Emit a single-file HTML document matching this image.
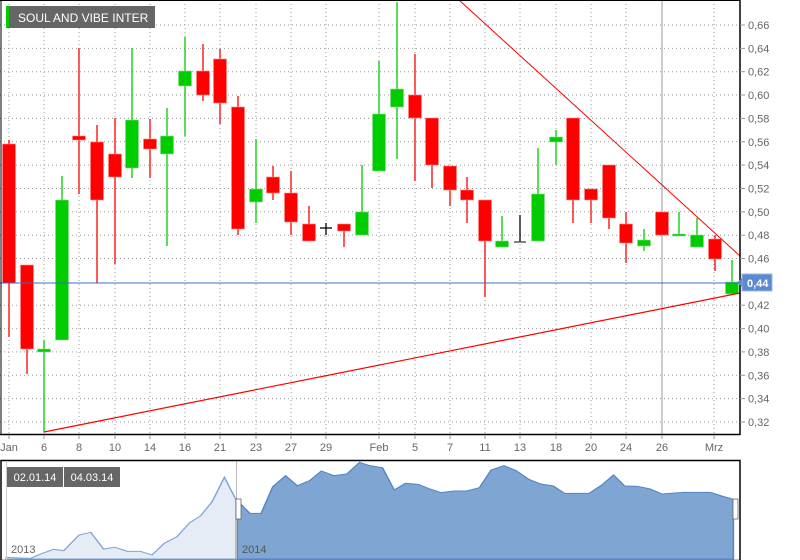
<!DOCTYPE html>
<html><head><meta charset="utf-8"><style>
html,body{margin:0;padding:0;background:#fff;}
svg{display:block;font-family:"Liberation Sans",sans-serif;}
</style></head><body>
<svg width="800" height="560" viewBox="0 0 800 560" xmlns="http://www.w3.org/2000/svg">
<rect width="800" height="560" fill="#fff"/>
<!-- horizontal grid -->
<g stroke="#999" stroke-dasharray="1,3" stroke-width="1">
<line x1="0" x2="740" y1="25" y2="25"/><line x1="0" x2="740" y1="48.4" y2="48.4"/><line x1="0" x2="740" y1="71.7" y2="71.7"/><line x1="0" x2="740" y1="95" y2="95"/><line x1="0" x2="740" y1="118.4" y2="118.4"/><line x1="0" x2="740" y1="141.8" y2="141.8"/><line x1="0" x2="740" y1="165.1" y2="165.1"/><line x1="0" x2="740" y1="188.5" y2="188.5"/><line x1="0" x2="740" y1="211.8" y2="211.8"/><line x1="0" x2="740" y1="235.2" y2="235.2"/><line x1="0" x2="740" y1="258.5" y2="258.5"/><line x1="0" x2="740" y1="305.2" y2="305.2"/><line x1="0" x2="740" y1="328.6" y2="328.6"/><line x1="0" x2="740" y1="351.9" y2="351.9"/><line x1="0" x2="740" y1="375.3" y2="375.3"/><line x1="0" x2="740" y1="398.6" y2="398.6"/><line x1="0" x2="740" y1="422" y2="422"/>
</g>
<!-- vertical grid -->
<g stroke="#999" stroke-dasharray="1,3">
<line x1="9" x2="9" y1="0" y2="434"/><line x1="44" x2="44" y1="0" y2="434"/><line x1="79" x2="79" y1="0" y2="434"/><line x1="115" x2="115" y1="0" y2="434"/><line x1="150" x2="150" y1="0" y2="434"/><line x1="185" x2="185" y1="0" y2="434"/><line x1="220" x2="220" y1="0" y2="434"/><line x1="256" x2="256" y1="0" y2="434"/><line x1="291" x2="291" y1="0" y2="434"/><line x1="326" x2="326" y1="0" y2="434"/><line x1="379" x2="379" y1="0" y2="434"/><line x1="415" x2="415" y1="0" y2="434"/><line x1="450" x2="450" y1="0" y2="434"/><line x1="485" x2="485" y1="0" y2="434"/><line x1="520" x2="520" y1="0" y2="434"/><line x1="556" x2="556" y1="0" y2="434"/><line x1="591" x2="591" y1="0" y2="434"/><line x1="626" x2="626" y1="0" y2="434"/><line x1="714" x2="714" y1="0" y2="434"/>
</g>
<line x1="662" x2="662" y1="0" y2="434" stroke="#999" stroke-width="1"/>
<!-- candles -->
<g stroke-width="1.3">
<!-- wicks -->
<g stroke="#f00">
<line x1="9" x2="9" y1="140" y2="337"/><line x1="27" x2="27" y1="265" y2="374"/><line x1="79" x2="79" y1="48" y2="194"/><line x1="97" x2="97" y1="125" y2="283"/><line x1="115" x2="115" y1="118" y2="264"/><line x1="150" x2="150" y1="119" y2="178"/><line x1="203" x2="203" y1="44" y2="101"/><line x1="220" x2="220" y1="49" y2="124"/><line x1="238" x2="238" y1="96" y2="235"/><line x1="273" x2="273" y1="166" y2="200"/><line x1="291" x2="291" y1="171" y2="235"/><line x1="309" x2="309" y1="206" y2="241"/><line x1="344" x2="344" y1="224" y2="247"/>
<line x1="415" x2="415" y1="54" y2="181"/><line x1="432" x2="432" y1="118" y2="188"/><line x1="450" x2="450" y1="166" y2="206"/><line x1="467" x2="467" y1="177" y2="223"/><line x1="485" x2="485" y1="200" y2="297"/><line x1="573" x2="573" y1="118" y2="223"/><line x1="591" x2="591" y1="189" y2="223"/><line x1="609" x2="609" y1="165" y2="229"/><line x1="626" x2="626" y1="212" y2="263"/><line x1="715" x2="715" y1="235" y2="271"/>
</g>
<g stroke="#0c0">
<line x1="44" x2="44" y1="340" y2="432"/><line x1="62" x2="62" y1="176" y2="340"/><line x1="132" x2="132" y1="48" y2="178"/><line x1="167" x2="167" y1="108" y2="246"/><line x1="185" x2="185" y1="37" y2="136"/><line x1="256" x2="256" y1="139" y2="223"/><line x1="362" x2="362" y1="165" y2="235"/>
<line x1="379" x2="379" y1="61" y2="171"/><line x1="397" x2="397" y1="2" y2="159"/><line x1="502" x2="502" y1="216" y2="247"/><line x1="538" x2="538" y1="148" y2="241"/><line x1="556" x2="556" y1="130" y2="165"/><line x1="644" x2="644" y1="229" y2="251"/><line x1="679" x2="679" y1="212" y2="236"/><line x1="697" x2="697" y1="218" y2="247"/><line x1="732" x2="732" y1="260" y2="294"/>
</g>
<g stroke="#000">
<line x1="326" x2="326" y1="223" y2="235"/><line x1="320" x2="332" y1="228" y2="228"/>
<line x1="520" x2="520" y1="215" y2="242"/><line x1="514" x2="526" y1="242" y2="242" stroke="#444"/>
</g>
</g>
<g fill="#f00" stroke="#f88" stroke-width="0.6">
<rect x="2.5" y="144" width="13" height="139"/><rect x="20.5" y="265" width="13" height="84"/><rect x="72.5" y="136" width="13" height="4"/><rect x="90.5" y="142" width="13" height="58"/><rect x="108.5" y="154" width="13" height="23"/><rect x="143.5" y="139" width="13" height="10"/><rect x="196.5" y="71" width="13" height="24"/><rect x="213.5" y="59" width="13" height="44"/><rect x="231.5" y="107" width="13" height="122"/><rect x="266.5" y="177" width="13" height="16"/><rect x="284.5" y="193" width="13" height="29"/><rect x="302.5" y="224" width="13" height="17"/><rect x="337.5" y="224" width="13" height="7"/>
<rect x="408.5" y="95" width="13" height="23"/><rect x="425.5" y="118" width="13" height="47"/><rect x="443.5" y="166" width="13" height="24"/><rect x="460.5" y="190" width="13" height="10"/><rect x="478.5" y="200" width="13" height="41"/><rect x="566.5" y="118" width="13" height="82"/><rect x="584.5" y="189" width="13" height="11"/><rect x="602.5" y="165" width="13" height="53"/><rect x="619.5" y="224" width="13" height="19"/><rect x="655.5" y="212" width="13" height="23"/><rect x="708.5" y="239" width="13" height="20"/>
</g>
<g fill="#0c0" stroke="#8d8" stroke-width="0.6">
<rect x="37.5" y="349" width="13" height="3"/><rect x="55.5" y="200" width="13" height="140"/><rect x="125.5" y="120" width="13" height="48"/><rect x="160.5" y="136" width="13" height="18"/><rect x="178.5" y="71" width="13" height="15"/><rect x="249.5" y="189" width="13" height="13"/><rect x="355.5" y="212" width="13" height="23"/>
<rect x="372.5" y="114" width="13" height="57"/><rect x="390.5" y="89" width="13" height="18"/><rect x="495.5" y="241" width="13" height="6"/><rect x="531.5" y="194" width="13" height="47"/><rect x="549.5" y="137" width="13" height="5"/><rect x="637.5" y="240" width="13" height="6"/><rect x="672.5" y="234" width="13" height="2"/><rect x="690.5" y="235" width="13" height="12"/><rect x="725.5" y="282" width="13" height="12"/>
</g>
<!-- lines -->
<line x1="0" x2="740" y1="283" y2="283" stroke="#3a6fc0" stroke-width="1"/>
<line x1="459" y1="0" x2="740" y2="256" stroke="#f00" stroke-width="1"/>
<line x1="44" y1="432" x2="740" y2="293" stroke="#f00" stroke-width="1.2"/>
<!-- axes -->
<line x1="740" x2="740" y1="0" y2="435" stroke="#000" stroke-width="1.5"/>
<line x1="0" x2="740" y1="434.5" y2="434.5" stroke="#000" stroke-width="1.5"/>
<line x1="1" x2="1" y1="0" y2="435" stroke="#000" stroke-width="1"/>
<line x1="0" x2="740" y1="0.5" y2="0.5" stroke="#000" stroke-width="1"/>
<g stroke="#999"><line x1="740" x2="745" y1="25" y2="25"/><line x1="740" x2="745" y1="48.4" y2="48.4"/><line x1="740" x2="745" y1="71.7" y2="71.7"/><line x1="740" x2="745" y1="95" y2="95"/><line x1="740" x2="745" y1="118.4" y2="118.4"/><line x1="740" x2="745" y1="141.8" y2="141.8"/><line x1="740" x2="745" y1="165.1" y2="165.1"/><line x1="740" x2="745" y1="188.5" y2="188.5"/><line x1="740" x2="745" y1="211.8" y2="211.8"/><line x1="740" x2="745" y1="235.2" y2="235.2"/><line x1="740" x2="745" y1="258.5" y2="258.5"/><line x1="740" x2="745" y1="305.2" y2="305.2"/><line x1="740" x2="745" y1="328.6" y2="328.6"/><line x1="740" x2="745" y1="351.9" y2="351.9"/><line x1="740" x2="745" y1="375.3" y2="375.3"/><line x1="740" x2="745" y1="398.6" y2="398.6"/><line x1="740" x2="745" y1="422" y2="422"/></g>
<g fill="#666" font-size="11">
<text x="748" y="29">0,66</text><text x="748" y="52.4">0,64</text><text x="748" y="75.7">0,62</text><text x="748" y="99">0,60</text><text x="748" y="122.4">0,58</text><text x="748" y="145.8">0,56</text><text x="748" y="169.1">0,54</text><text x="748" y="192.5">0,52</text><text x="748" y="215.8">0,50</text><text x="748" y="239.2">0,48</text><text x="748" y="262.5">0,46</text><text x="748" y="309.2">0,42</text><text x="748" y="332.6">0,40</text><text x="748" y="355.9">0,38</text><text x="748" y="379.3">0,36</text><text x="748" y="402.6">0,34</text><text x="748" y="426">0,32</text>
</g>
<rect x="742" y="274" width="30" height="17" fill="#5b8ad0" stroke="#9bb8e4"/>
<polygon points="737,282.5 742,278 742,287" fill="#5b8ad0"/>
<text x="747" y="287" fill="#fff" font-size="11" font-weight="bold">0,44</text>
<g stroke="#999"><line x1="9" x2="9" y1="435" y2="439"/><line x1="44" x2="44" y1="435" y2="439"/><line x1="79" x2="79" y1="435" y2="439"/><line x1="115" x2="115" y1="435" y2="439"/><line x1="150" x2="150" y1="435" y2="439"/><line x1="185" x2="185" y1="435" y2="439"/><line x1="220" x2="220" y1="435" y2="439"/><line x1="256" x2="256" y1="435" y2="439"/><line x1="291" x2="291" y1="435" y2="439"/><line x1="326" x2="326" y1="435" y2="439"/><line x1="379" x2="379" y1="435" y2="439"/><line x1="415" x2="415" y1="435" y2="439"/><line x1="450" x2="450" y1="435" y2="439"/><line x1="485" x2="485" y1="435" y2="439"/><line x1="520" x2="520" y1="435" y2="439"/><line x1="556" x2="556" y1="435" y2="439"/><line x1="591" x2="591" y1="435" y2="439"/><line x1="626" x2="626" y1="435" y2="439"/><line x1="662" x2="662" y1="435" y2="439"/><line x1="714" x2="714" y1="435" y2="439"/></g>
<g fill="#666" font-size="11" text-anchor="middle">
<text x="9" y="451">Jan</text><text x="44" y="451">6</text><text x="79" y="451">8</text><text x="115" y="451">10</text><text x="150" y="451">14</text><text x="185" y="451">16</text><text x="220" y="451">21</text><text x="256" y="451">23</text><text x="291" y="451">27</text><text x="326" y="451">29</text><text x="379" y="451">Feb</text><text x="415" y="451">5</text><text x="450" y="451">7</text><text x="485" y="451">11</text><text x="520" y="451">13</text><text x="556" y="451">18</text><text x="591" y="451">20</text><text x="626" y="451">24</text><text x="662" y="451">26</text><text x="714" y="451">Mrz</text>
</g>
<!-- title -->
<rect x="6" y="6" width="149" height="22" fill="#666"/>
<rect x="6" y="6" width="3" height="22" fill="#0c0"/>
<text x="18" y="22" fill="#fff" font-size="12">SOUL AND VIBE INTER</text>
<!-- navigator -->
<g transform="translate(0,455) scale(0.51,0.3333)">
<path d="M12,307 L60,310 L80,297 L105,283 L125,287 L155,240 L178,232 L203,282 L225,277 L250,289 L275,289 L298,300 L322,265 L347,245 L372,203 L393,183 L416,140 L440,67 L463,135 L463,312 L12,312 Z" fill="#e6ecf6" stroke="#7fa5d3" stroke-width="3"/>
<path d="M465,135 L480,160 L490,175 L512,175 L535,95 L560,62 L583,92 L607,77 L630,48 L655,62 L680,57 L705,22 L725,32 L750,38 L773,105 L795,85 L820,88 L843,102 L865,113 L890,108 L915,108 L940,98 L963,45 L988,32 L1012,47 L1037,73 L1060,87 L1085,93 L1107,115 L1155,115 L1180,90 L1203,60 L1225,93 L1250,94 L1275,102 L1298,117 L1340,112 L1393,112 L1415,123 L1438,133 L1438,312 L465,312 Z" fill="#7fa5d3" stroke="#5585c5" stroke-width="3"/>
</g>
<line x1="236.5" x2="236.5" y1="461" y2="560" stroke="#bbb"/>
<rect x="236" y="499" width="5" height="20" fill="#fff" stroke="#666" stroke-width="0.8"/>
<rect x="733" y="499" width="5" height="20" fill="#fff" stroke="#666" stroke-width="0.8"/>
<rect x="1" y="460.5" width="739" height="100" fill="none" stroke="#000" stroke-width="1.5"/>
<line x1="6.5" x2="6.5" y1="461" y2="560" stroke="#ccc"/>
<rect x="7" y="467" width="56" height="20" fill="#666"/>
<rect x="64" y="467" width="56" height="20" fill="#666"/>
<text x="35" y="481" fill="#fff" font-size="11" text-anchor="middle">02.01.14</text>
<text x="92" y="481" fill="#fff" font-size="11" text-anchor="middle">04.03.14</text>
<text x="11" y="553" fill="#666" font-size="11">2013</text>
<text x="242" y="553" fill="#555" font-size="11">2014</text>
</svg>
</body></html>
